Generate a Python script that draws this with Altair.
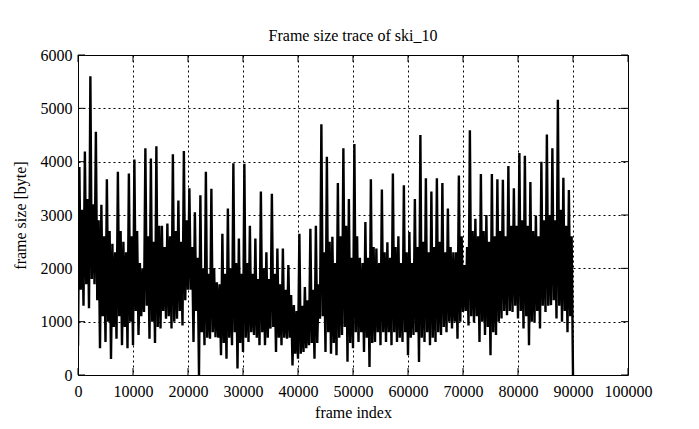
import altair as alt
import pandas as pd

title_text = "Frame size trace of ski_10"
x_title = "frame index"
y_title = "frame size [byte]"
x_ticks = [0, 10000, 20000, 30000, 40000, 50000, 60000, 70000, 80000, 90000, 100000]
y_ticks = [0, 1000, 2000, 3000, 4000, 5000, 6000]

# Frame sizes, in blocks of 1000 frames.
# Each block: deep trough, spike peak, core low, core high (one value every 250 frames).
trough_bytes = [
    550, 1300, 1250, 1700, 500, 620, 300, 680, 560, 500,
    560, 750, 1180, 680, 600, 870, 1056, 870, 1056, 930,
    1600, 620, 0, 560, 680, 710, 370, 306, 560, 120,
    430, 620, 750, 560, 560, 870, 430, 560, 680, 180,
    306, 430, 560, 306, 1056, 430, 400, 370, 750, 250,
    500, 620, 430, 150, 620, 560, 620, 560, 620, 620,
    370, 750, 245, 620, 560, 620, 750, 800, 870, 680,
    1180, 930, 990, 620, 750, 370, 750, 1060, 1120, 1180,
    1060, 870, 560, 990, 870, 1180, 1310, 1060, 1000, 800,
    0,
]
peak_bytes = [
    3900, 4190, 5600, 4560, 3190, 3670, 2460, 3810, 2500, 3780,
    4040, 2100, 4250, 4060, 4290, 2800, 2840, 4140, 3270, 4200,
    3500, 3050, 3370, 3810, 3490, 1740, 2650, 3120, 3970, 2560,
    3960, 2800, 2560, 3440, 2300, 3400, 2370, 2370, 2060, 1310,
    2650, 1650, 2740, 2800, 4700, 4090, 2590, 3600, 4250, 3300,
    4330, 2200, 2870, 3670, 2370, 3480, 2490, 3780, 2600, 3556,
    2680, 3300, 4500, 3690, 3440, 3690, 3600, 3120, 2300, 3740,
    2060, 4590, 2930, 3770, 3000, 3770, 3670, 3660, 3920, 3500,
    4160, 4110, 3620, 2990, 4000, 4510, 4250, 5160, 3700, 3470,
]
core_low_bytes = [
    1600, 1700, 1800, 1400, 1100, 1000, 900, 1100, 900, 1000,
    1200, 1100, 1300, 1000, 900, 1200, 1100, 1000, 1200, 1400,
    1600, 1200, 800, 700, 800, 700, 600, 700, 800, 600,
    700, 800, 700, 800, 700, 900, 700, 700, 700, 400,
    400, 500, 600, 600, 1100, 800, 600, 700, 900, 600,
    800, 800, 700, 600, 800, 800, 800, 800, 700, 800,
    700, 800, 700, 800, 700, 800, 900, 1000, 1000, 1000,
    1200, 1100, 1100, 1000, 900, 800, 1000, 1200, 1200, 1300,
    1200, 1100, 1000, 1200, 1300, 1300, 1400, 1300, 1200, 1100,
]
core_high_bytes = [
    3100, 3300, 3200, 2900, 2600, 2700, 2300, 2700, 2300, 2600,
    2700, 2000, 2600, 2500, 2800, 2400, 2600, 2700, 2500, 2900,
    2400, 2200, 2000, 1900, 2000, 1700, 1900, 2000, 2100, 1900,
    2100, 1900, 1800, 2000, 1800, 1900, 1700, 1600, 1500, 1200,
    1300, 1400, 1600, 1700, 2300, 2500, 2100, 2600, 2800, 2200,
    2600, 2100, 2200, 2400, 2100, 2300, 2200, 2400, 2100, 2300,
    2100, 2400, 2500, 2300, 2400, 2500, 2300, 2400, 2300, 2600,
    2400, 2700, 2600, 2700, 2500, 2600, 2700, 2600, 2800, 2800,
    2900, 2800, 2700, 2600, 2900, 3000, 2900, 3100, 2800, 2600,
]
block_frames = 1000

rows = []
for k, lo in enumerate(trough_bytes):
    base = k * block_frames
    rows.append({"frame": base, "size": lo})
    if k < len(peak_bytes):
        rows.append({"frame": base + block_frames // 4, "size": peak_bytes[k]})
        rows.append({"frame": base + block_frames // 2, "size": core_low_bytes[k]})
        rows.append({"frame": base + 3 * block_frames // 4, "size": core_high_bytes[k]})
df = pd.DataFrame(rows)

FONT = "Liberation Serif"
W, H = 550, 320
TICK = 7

xs = alt.Scale(domain=[0, 100000], nice=False, zero=False)
ys = alt.Scale(domain=[0, 6000], nice=False, zero=False)

x_axis = alt.Axis(values=x_ticks, title=x_title, format="d", grid=True,
                  gridDash=[2, 3], gridColor="black", gridOpacity=1, gridWidth=1,
                  ticks=False, domain=False, labelPadding=8, titlePadding=5,
                  labelFlush=False, labelOverlap=False)
y_axis = alt.Axis(values=y_ticks, title=y_title, format="d", grid=True,
                  gridDash=[2, 3], gridColor="black", gridOpacity=1, gridWidth=1,
                  ticks=False, domain=False, labelPadding=6, titlePadding=12,
                  labelFlush=False, labelOverlap=False)

line = alt.Chart(df).mark_line(color="black", strokeWidth=2.4, clip=True,
                               strokeJoin="miter", strokeMiterLimit=3).encode(
    x=alt.X("frame:Q", scale=xs, axis=x_axis),
    y=alt.Y("size:Q", scale=ys, axis=y_axis),
)

xt = pd.DataFrame({"t": x_ticks})
yt = pd.DataFrame({"t": y_ticks})

bottom_ticks = alt.Chart(xt).mark_rule(color="black", strokeWidth=1).encode(
    x=alt.X("t:Q", scale=xs, title=x_title), y=alt.value(H), y2=alt.value(H - TICK))
top_ticks = alt.Chart(xt).mark_rule(color="black", strokeWidth=1).encode(
    x=alt.X("t:Q", scale=xs, title=x_title), y=alt.value(0), y2=alt.value(TICK))
left_ticks = alt.Chart(yt).mark_rule(color="black", strokeWidth=1).encode(
    y=alt.Y("t:Q", scale=ys, title=y_title), x=alt.value(0), x2=alt.value(TICK))
right_ticks = alt.Chart(yt).mark_rule(color="black", strokeWidth=1).encode(
    y=alt.Y("t:Q", scale=ys, title=y_title), x=alt.value(W), x2=alt.value(W - TICK))

chart = alt.layer(line, bottom_ticks, top_ticks, left_ticks, right_ticks).properties(
    width=W, height=H,
    title=alt.TitleParams(title_text, font=FONT, fontSize=16, fontWeight="normal",
                          color="black", offset=3),
    autosize=alt.AutoSizeParams(type="none"),
    padding={"left": 70, "top": 47, "right": 63, "bottom": 46},
    background="white",
).configure_view(stroke="black", strokeWidth=1).configure_axis(
    labelFont=FONT, titleFont=FONT, labelFontSize=16, titleFontSize=16,
    labelColor="black", titleColor="black", titleFontWeight="normal")

chart.save("out.html", embed_options={"renderer": "svg", "actions": False})
